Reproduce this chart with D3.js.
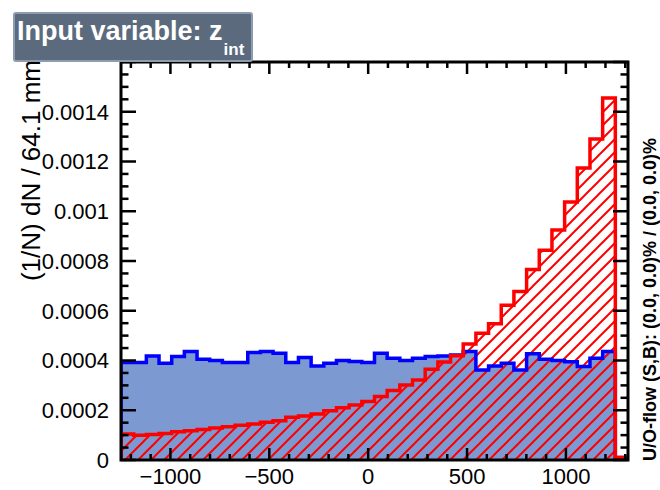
<!DOCTYPE html>
<html>
<head>
<meta charset="utf-8">
<script src="https://cdn.jsdelivr.net/npm/d3@7"></script>
<style>
  html, body { margin: 0; padding: 0; background: #ffffff; }
  svg { display: block; font-family: "Liberation Sans", Arial, Helvetica, sans-serif; }
</style>
</head>
<body>
<svg id="chart" width="660" height="490"></svg>
<script>
// Binning of z_int: 40 bins of 64.1 mm
const binWidth = 64.1;
const xMin = -1250;
const nBins = 40;

// Normalised distributions (1/N dN per bin)
const signal = [
  0.000105, 0.000100, 0.000103, 0.000107, 0.000114, 0.000118, 0.000123, 0.000129,
  0.000134, 0.000140, 0.000145, 0.000152, 0.000158, 0.000172, 0.000177, 0.000185,
  0.000198, 0.000210, 0.000221, 0.000235, 0.000255, 0.000279, 0.000302, 0.000322,
  0.000365, 0.000394, 0.000419, 0.000466, 0.000510, 0.000548, 0.000622, 0.000677,
  0.000766, 0.000843, 0.000925, 0.001037, 0.001174, 0.001290, 0.001455, 0.000010
];
const background = [
  0.000392, 0.000392, 0.000418, 0.000389, 0.000416, 0.000436, 0.000405, 0.000400,
  0.000392, 0.000392, 0.000432, 0.000436, 0.000429, 0.000392, 0.000412, 0.000378,
  0.000389, 0.000400, 0.000396, 0.000392, 0.000429, 0.000409, 0.000400, 0.000409,
  0.000416, 0.000418, 0.000422, 0.000436, 0.000362, 0.000378, 0.000389, 0.000362,
  0.000427, 0.000405, 0.000400, 0.000395, 0.000376, 0.000409, 0.000436, 0.000010
];

// Axis ticks and labels
const xTicks = [-1000, -500, 0, 500, 1000];
const xTickLabels = ["\u22121000", "\u2212500", "0", "500", "1000"];
const yTicks = [0, 0.0002, 0.0004, 0.0006, 0.0008, 0.001, 0.0012, 0.0014];
const yTickLabels = ["0", "0.0002", "0.0004", "0.0006", "0.0008", "0.001", "0.0012", "0.0014"];
const yMax = 0.0016;

const titleText = "Input variable: z";
const titleSub = "int";
const yTitle = "(1/N) dN / 64.1 mm";
const flowText = "U/O-flow (S,B): (0.0, 0.0)% / (0.0, 0.0)%";

const svg = d3.select("#chart");
const frame = { left: 121, right: 628, top: 62, bottom: 460 };

const x = d3.scaleLinear().domain([xMin, xMin + nBins * binWidth]).range([frame.left, frame.right]);
const y = d3.scaleLinear().domain([0, yMax]).range([frame.bottom, frame.top]);

// Hatch pattern for the signal histogram
const defs = svg.append("defs");
const pat = defs.append("pattern")
  .attr("id", "hatch").attr("patternUnits", "userSpaceOnUse")
  .attr("width", 13).attr("height", 13);
pat.append("path")
  .attr("d", "M-2,2 L2,-2 M0,13 L13,0 M11,15 L15,11")
  .attr("stroke", "#ff0000").attr("stroke-width", 2).attr("fill", "none");

defs.append("clipPath").attr("id", "plotClip")
  .append("rect").attr("x", frame.left).attr("y", frame.top)
  .attr("width", frame.right - frame.left).attr("height", frame.bottom - frame.top);

// Step points for a histogram
function steps(values) {
  const pts = [];
  values.forEach((v, i) => {
    const lo = xMin + i * binWidth;
    pts.push([lo, v], [lo + binWidth, v]);
  });
  return pts;
}
const area = d3.area().x(d => x(d[0])).y0(y(0)).y1(d => y(d[1]));
const outline = pts => {
  const full = [[pts[0][0], 0], ...pts, [pts[pts.length - 1][0], 0]];
  return d3.line().x(d => x(d[0])).y(d => y(d[1]))(full);
};

const plot = svg.append("g").attr("clip-path", "url(#plotClip)");
const bgPts = steps(background);
const sigPts = steps(signal);

plot.append("path").attr("d", area(bgPts)).attr("fill", "#7d99d1");
plot.append("path").attr("d", area(sigPts)).attr("fill", "url(#hatch)");
plot.append("path").attr("d", outline(bgPts))
  .attr("fill", "none").attr("stroke", "#0000ff").attr("stroke-width", 3.5).attr("stroke-linejoin", "miter");
plot.append("path").attr("d", outline(sigPts))
  .attr("fill", "none").attr("stroke", "#ff0000").attr("stroke-width", 3.5).attr("stroke-linejoin", "miter");

// Ticks (inward on all four sides)
const ticks = svg.append("g").attr("stroke", "#000").attr("stroke-width", 2.5);
const yMinor = d3.range(0, yMax + 1e-12, 0.00005);
yMinor.forEach(v => {
  const major = yTicks.some(t => Math.abs(t - v) < 1e-9) || Math.abs(v - yMax) < 1e-9;
  const len = major ? 15 : 7.5;
  ticks.append("line").attr("x1", frame.left).attr("x2", frame.left + len).attr("y1", y(v)).attr("y2", y(v));
  ticks.append("line").attr("x1", frame.right).attr("x2", frame.right - len).attr("y1", y(v)).attr("y2", y(v));
});
const xMinor = d3.range(-1200, 1301, 100);
xMinor.forEach(v => {
  const major = xTicks.includes(v);
  const len = major ? 12 : 6;
  ticks.append("line").attr("x1", x(v)).attr("x2", x(v)).attr("y1", frame.bottom).attr("y2", frame.bottom - len);
  ticks.append("line").attr("x1", x(v)).attr("x2", x(v)).attr("y1", frame.top).attr("y2", frame.top + len);
});

// Frame
svg.append("rect")
  .attr("x", frame.left).attr("y", frame.top)
  .attr("width", frame.right - frame.left).attr("height", frame.bottom - frame.top)
  .attr("fill", "none").attr("stroke", "#000").attr("stroke-width", 3);

// Tick labels
svg.append("g").selectAll("text").data(yTicks).join("text")
  .attr("x", 109).attr("y", d => y(d)).attr("dy", "0.36em")
  .attr("text-anchor", "end").attr("font-size", 22).attr("fill", "#000")
  .text((d, i) => yTickLabels[i]);
svg.append("g").selectAll("text").data(xTicks).join("text")
  .attr("x", d => x(d)).attr("y", 484)
  .attr("text-anchor", "middle").attr("font-size", 22).attr("fill", "#000")
  .text((d, i) => xTickLabels[i]);

// Y axis title
svg.append("text")
  .attr("transform", "translate(40,60) rotate(-90)")
  .attr("text-anchor", "end").attr("font-size", 26).attr("fill", "#000")
  .text(yTitle);

// Under/overflow note
svg.append("text")
  .attr("transform", "translate(656,461) rotate(-90)")
  .attr("text-anchor", "start").attr("font-size", 18).attr("font-weight", "bold").attr("fill", "#000")
  .text(flowText);

// Title box
svg.append("rect")
  .attr("x", 14).attr("y", 13).attr("width", 238).attr("height", 48).attr("rx", 2)
  .attr("fill", "#5c6a7e").attr("stroke", "#8d9db0").attr("stroke-width", 2);
const title = svg.append("text")
  .attr("x", 17).attr("y", 39.5).attr("font-size", 27).attr("font-weight", "bold").attr("fill", "#ffffff");
title.append("tspan").text(titleText);
title.append("tspan").attr("font-size", 17).attr("dy", 15.5).attr("dx", 1).text(titleSub);
</script>
</body>
</html>
